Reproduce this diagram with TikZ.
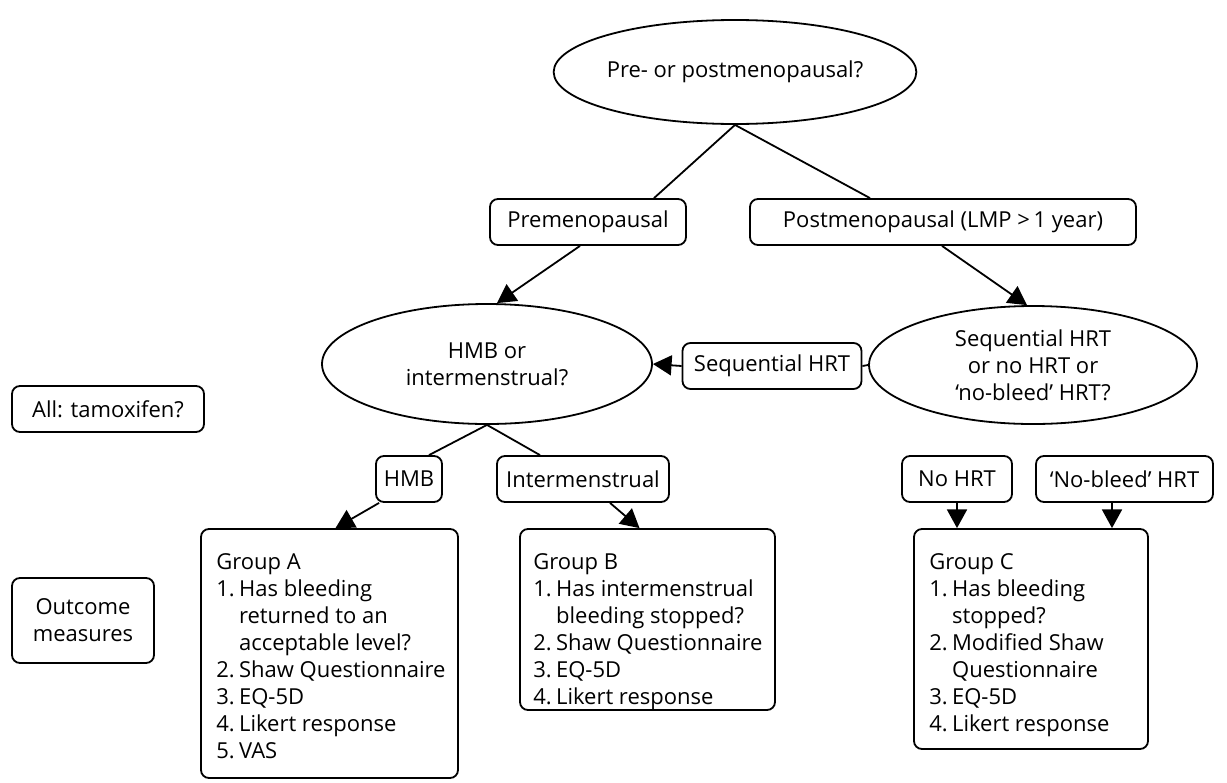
\documentclass[tikz,border=0pt]{standalone}
\usepackage{fontspec}
\setmainfont{Open Sans}
\usetikzlibrary{shapes.geometric,arrows.meta,calc}
\pgfdeclarelayer{bg}
\pgfsetlayers{bg,main}
\begin{document}
\begin{tikzpicture}[x=0.75pt,y=-0.75pt,
  font=\fontsize{16.5}{20.25}\selectfont,
  lw/.style={line width=1.35pt},
  box/.style={lw, draw, rounded corners=6pt, fill=white, minimum height=34.5pt, inner sep=0pt, align=center},
  ell/.style={lw, draw, ellipse, fill=white, inner sep=0pt, align=center},
  grp/.style={lw, draw, rounded corners=6pt, fill=white, inner sep=0pt},
  gtext/.style={anchor=base west, inner sep=0pt, align=left},
  arr/.style={lw, -{Triangle[length=14pt 0,width=15pt 0]}},
  ln/.style={lw}]
\fill[white] (0,0) rectangle (1227,782);
\useasboundingbox (0,0) rectangle (1227,782);

% ellipses
\node[ell, minimum width=205.5pt, minimum height=78pt] (top) at (735,72) {Pre- or postmenopausal?};
\node[ell, minimum width=247.5pt, minimum height=90pt] (hmbq) at (487,364) {HMB or\\intermenstrual?};
\node[ell, minimum width=246pt, minimum height=88.5pt] (seqq) at (1033,365) {Sequential HRT\\or no HRT or\\‘no-bleed’ HRT?};

% boxes
\node[box, minimum width=147pt] (prem) at (588,222) {Premenopausal};
\node[box, minimum width=289.5pt] (post) at (943,222) {Postmenopausal (LMP >\,1 year)};
\node[box, minimum width=134.25pt] (seqb) at (772,366) {Sequential HRT};
\node[box, minimum width=49.5pt] (hmb) at (409,479) {HMB};
\node[box, minimum width=129pt] (inter) at (583,479) {Intermenstrual};
\node[box, minimum width=82.5pt] (nohrt) at (957,479) {No HRT};
\node[box, minimum width=132.75pt] (nobleed) at (1124.5,479) {‘No-bleed’ HRT};
\node[box, minimum width=144pt] (tam) at (108,409) {All: tamoxifen?};
\node[box, minimum width=106.5pt, minimum height=63.75pt] (outc) at (83,620.5) {Outcome\\measures};

% group boxes
\node[grp, minimum width=192.75pt, minimum height=186.75pt] (ga) at (329.5,653.5) {};
\node[grp, minimum width=191.25pt, minimum height=135.75pt] (gb) at (647.5,619.5) {};
\node[grp, minimum width=175.5pt, minimum height=165pt] (gc) at (1031,639) {};

\node[gtext] (gat) at (216,569) {\begin{tabular}[t]{@{}l@{\hspace{0.2em}}l@{}}
\multicolumn{2}{@{}l@{}}{Group A}\\
1. & Has bleeding\\
 & returned to an\\
 & acceptable level?\\
2. & Shaw Questionnaire\\
3. & EQ-5D\\
4. & Likert response\\
5. & VAS
\end{tabular}};
\node[gtext] (gbt) at (533,569) {\begin{tabular}[t]{@{}l@{\hspace{0.2em}}l@{}}
\multicolumn{2}{@{}l@{}}{Group B}\\
1. & Has intermenstrual\\
 & bleeding stopped?\\
2. & Shaw Questionnaire\\
3. & EQ-5D\\
4. & Likert response
\end{tabular}};
\node[gtext] (gct) at (929,569) {\begin{tabular}[t]{@{}l@{\hspace{0.2em}}l@{}}
\multicolumn{2}{@{}l@{}}{Group C}\\
1. & Has bleeding\\
 & stopped?\\
2. & Modified Shaw\\
 & Questionnaire\\
3. & EQ-5D\\
4. & Likert response
\end{tabular}};

% connectors
\draw[ln] (top.south) -- ($(prem.north)+(66,0)$);
\draw[ln] (top.south) -- ($(post.north)+(-73,0)$);
\draw[arr] ($(prem.south)+(-8,0)$) -- ($(hmbq.north)+(10,0)$);
\draw[arr] ($(post.south)+(-1,0)$) -- ($(seqq.north)+(-6,0)$);
\draw[ln] (seqq.west) -- (seqb.east);
\draw[arr] (seqb.west) -- (hmbq.east);
\draw[ln] (hmbq.south) -- ($(hmb.north)+(20,0)$);
\draw[ln] (hmbq.south) -- ($(inter.north)+(-43,0)$);
\draw[arr] ($(hmb.south west)+(4,0)$) -- ($(ga.north)+(6,0)$);
\draw[arr] ($(inter.south)+(27,0)$) -- ($(gb.north)+(-8,0)$);
\begin{pgfonlayer}{bg}
\draw[ln] (nohrt.north) -- (nohrt.north |- seqq.center);
\draw[ln] ($(nobleed.north)+(-12.5,0)$) -- ($(nobleed.north |- seqq.center)+(-12.5,0)$);
\end{pgfonlayer}
\draw[arr] (nohrt.south) -- (nohrt.south |- gc.north);
\draw[arr] ($(nobleed.south)+(-12.5,0)$) -- ($(nobleed.south |- gc.north)+(-12.5,0)$);
\end{tikzpicture}
\end{document}
